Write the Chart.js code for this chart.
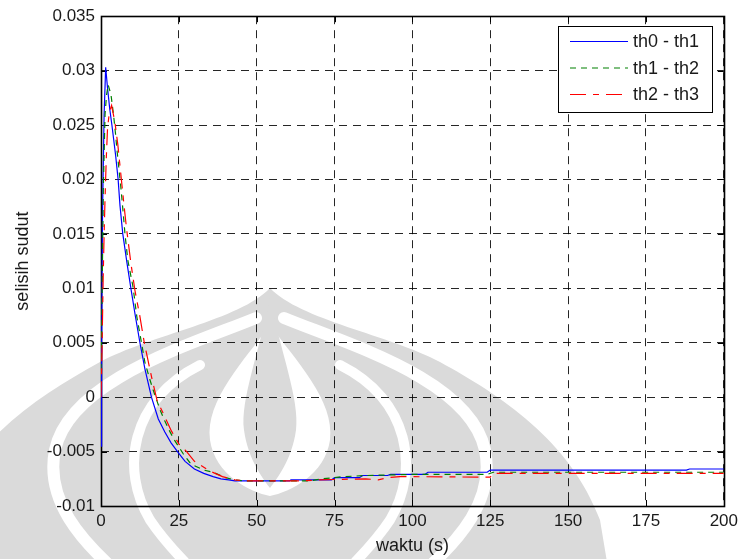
<!DOCTYPE html>
<html>
<head>
<meta charset="utf-8">
<script src="https://cdn.jsdelivr.net/npm/chart.js@4.4.1/dist/chart.umd.min.js"></script>
<style>
  html, body { margin: 0; padding: 0; background: #fff; }
  canvas { display: block; }
</style>
</head>
<body>
<canvas id="c" width="743" height="559"></canvas>
<script>
// Axis ticks and labels
const xTicks  = [0, 25, 50, 75, 100, 125, 150, 175, 200];
const xLabels = ['0', '25', '50', '75', '100', '125', '150', '175', '200'];
const yTicks  = [-0.01, -0.005, 0, 0.005, 0.01, 0.015, 0.02, 0.025, 0.03, 0.035];
const yLabels = ['-0.01', '-0.005', '0', '0.005', '0.01', '0.015', '0.02', '0.025', '0.03', '0.035'];

// th0 - th1
const tA = [0, 0.2, 0.5, 1, 1.5, 2.1, 2.8, 3.5, 4.7, 5.5, 6.1, 7, 8.3, 9.6, 11, 12.5, 14.1, 16.2, 18.4, 20.5,
            22.5, 24.8, 27, 30, 33, 36, 38.5, 41, 43, 50, 60.6, 61, 74, 75, 83, 84, 92, 93, 104, 105,
            124, 125, 188, 189, 200];
const th0_th1 = [-0.0045, 0.005, 0.017, 0.026, 0.0303, 0.0284, 0.0265, 0.025, 0.0222, 0.020, 0.0176, 0.015,
                 0.0124, 0.010, 0.0075, 0.005, 0.0026, 0.0, -0.002, -0.0032, -0.0042, -0.0051, -0.0059,
                 -0.0066, -0.0070, -0.0073, -0.0075, -0.0076, -0.0077, -0.0077, -0.0077, -0.0076, -0.0076,
                 -0.0074, -0.0074, -0.0072, -0.0072, -0.0071, -0.0071, -0.0069, -0.0069, -0.0067, -0.0067,
                 -0.0066, -0.0066];

// th1 - th2
const tB = [0, 0.3, 0.6, 0.75, 1.05, 1.3, 1.8, 2.3, 3.2, 4, 4.7, 5.1, 6.4, 7.1, 7.7, 8.6, 10.3, 11.5, 13, 14.1,
            15.5, 16.7, 19, 20.5, 22, 23.7, 26.4, 28.5, 30, 33, 36, 40, 43, 46, 67, 71, 78, 85, 100, 124,
            126, 200];
const th1_th2 = [0.0025, 0.008, 0.0156, 0.0192, 0.0229, 0.026, 0.0278, 0.0287, 0.0278, 0.026, 0.0241, 0.0228,
                 0.0192, 0.017, 0.015, 0.0126, 0.0101, 0.0074, 0.005, 0.0032, 0.0018, 0.0007, -0.0012,
                 -0.0022, -0.0031, -0.004, -0.0052, -0.006, -0.0063, -0.0067, -0.0069, -0.0074, -0.0076,
                 -0.0077, -0.0077, -0.0075, -0.0073, -0.0072, -0.0071, -0.0071, -0.0069, -0.0069];

// th2 - th3
const tC = [0, 0.3, 0.7, 1, 1.3, 1.7, 2.1, 2.7, 3.4, 4.5, 5.4, 6.4, 7.4, 8.2, 9.6, 10.9, 12.5, 13.9, 16.2, 18,
            20, 22.6, 25, 27.5, 30, 35, 39, 43, 47, 64, 70, 85, 89, 92, 96, 125, 126, 200];
const th2_th3 = [0, 0.004, 0.011, 0.015, 0.0183, 0.022, 0.0247, 0.0262, 0.0268, 0.0252, 0.0232, 0.0204,
                 0.0176, 0.0155, 0.0123, 0.0098, 0.0074, 0.005, 0.0019, -0.0003, -0.0015, -0.0031, -0.0043,
                 -0.005, -0.0059, -0.0068, -0.0073, -0.0076, -0.0077, -0.0077, -0.0076, -0.0075, -0.0076,
                 -0.0074, -0.0073, -0.00735, -0.0070, -0.0070];

const seriesNames = ['th0 - th1', 'th1 - th2', 'th2 - th3'];

const pts = (ts, vs) => ts.map((t, i) => ({ x: t, y: vs[i] }));

const FONT = 'Liberation Sans, Arial, Helvetica, sans-serif';
const INK = '#1a1a1a';

// Light grey emblem printed behind the whole figure
const emblem = {
  id: 'emblem',
  beforeDraw(chart) {
    const ctx = chart.ctx;
    ctx.save();
    ctx.fillStyle = '#fff';
    ctx.fillRect(0, 0, chart.width, chart.height);
    const cx = 270, g = '#dadada';
    ctx.fillStyle = g;
    ctx.beginPath();
    ctx.moveTo(cx, 288);
    ctx.bezierCurveTo(cx - 30, 320, cx - 120, 335, cx - 170, 362);
    ctx.bezierCurveTo(cx - 230, 395, cx - 300, 440, cx - 330, 520);
    ctx.lineTo(cx - 340, 580);
    ctx.lineTo(cx + 340, 580);
    ctx.lineTo(cx + 330, 520);
    ctx.bezierCurveTo(cx + 300, 440, cx + 230, 395, cx + 170, 362);
    ctx.bezierCurveTo(cx + 120, 335, cx + 30, 320, cx, 288);
    ctx.closePath();
    ctx.fill();

    ctx.strokeStyle = '#fff';
    ctx.lineCap = 'round';
    // outer ring band
    ctx.lineWidth = 12;
    for (const s of [-1, 1]) {
      ctx.beginPath();
      ctx.moveTo(cx + s * 14, 318);
      ctx.bezierCurveTo(cx + s * 80, 345, cx + s * 200, 380, cx + s * 215, 450);
      ctx.bezierCurveTo(cx + s * 225, 500, cx + s * 190, 540, cx + s * 150, 575);
      ctx.stroke();
    }
    // side lobe lines
    ctx.lineWidth = 10;
    for (const s of [-1, 1]) {
      ctx.beginPath();
      ctx.moveTo(cx + s * 70, 365);
      ctx.bezierCurveTo(cx + s * 140, 400, cx + s * 150, 470, cx + s * 120, 520);
      ctx.bezierCurveTo(cx + s * 100, 550, cx + s * 80, 565, cx + s * 70, 580);
      ctx.stroke();
    }
    // central teardrop gap
    ctx.fillStyle = '#fff';
    ctx.beginPath();
    ctx.moveTo(cx, 325);
    ctx.bezierCurveTo(cx - 25, 360, cx - 65, 400, cx - 60, 440);
    ctx.bezierCurveTo(cx - 55, 475, cx - 20, 492, cx, 496);
    ctx.bezierCurveTo(cx + 20, 492, cx + 55, 475, cx + 60, 440);
    ctx.bezierCurveTo(cx + 65, 400, cx + 25, 360, cx, 325);
    ctx.fill();
    // central flame
    ctx.fillStyle = g;
    ctx.beginPath();
    ctx.moveTo(cx, 298);
    ctx.bezierCurveTo(cx - 10, 350, cx - 30, 400, cx - 26, 430);
    ctx.bezierCurveTo(cx - 22, 460, cx - 6, 480, cx, 488);
    ctx.bezierCurveTo(cx + 6, 480, cx + 22, 460, cx + 26, 430);
    ctx.bezierCurveTo(cx + 30, 400, cx + 10, 350, cx, 298);
    ctx.fill();
    ctx.restore();
  }
};

// Axes box with inward tick marks
const axesBox = {
  id: 'axesBox',
  beforeDatasetsDraw(chart) {
    const { ctx, chartArea: a, scales: { x, y } } = chart;
    ctx.save();
    ctx.strokeStyle = '#000';
    ctx.lineWidth = 1;
    ctx.beginPath();
    for (const v of xTicks) {
      const px = Math.round(x.getPixelForValue(v)) + 0.5;
      ctx.moveTo(px, a.bottom); ctx.lineTo(px, a.bottom - 6);
      ctx.moveTo(px, a.top); ctx.lineTo(px, a.top + 6);
    }
    for (const v of yTicks) {
      const py = Math.round(y.getPixelForValue(v)) + 0.5;
      ctx.moveTo(a.left, py); ctx.lineTo(a.left + 6, py);
      ctx.moveTo(a.right, py); ctx.lineTo(a.right - 6, py);
    }
    ctx.stroke();
    ctx.lineWidth = 1.6;
    ctx.strokeRect(Math.round(a.left) + 0.5, Math.round(a.top) + 0.5,
                   Math.round(a.right - a.left), Math.round(a.bottom - a.top));
    ctx.restore();
  }
};

// Boxed legend in the upper right corner
const boxLegend = {
  id: 'boxLegend',
  afterDraw(chart) {
    const ctx = chart.ctx;
    const bx = 558, by = 26, bw = 154, bh = 86;
    ctx.save();
    ctx.fillStyle = '#fff';
    ctx.fillRect(bx, by, bw, bh);
    ctx.strokeStyle = '#000';
    ctx.lineWidth = 1;
    ctx.strokeRect(bx + 0.5, by + 0.5, bw, bh);
    chart.data.datasets.forEach((ds, i) => {
      const yy = 41.5 + i * 26.5;
      ctx.strokeStyle = ds.borderColor;
      ctx.lineWidth = ds.borderWidth;
      ctx.setLineDash(ds.borderDash || []);
      ctx.beginPath();
      ctx.moveTo(570, yy);
      ctx.lineTo(628, yy);
      ctx.stroke();
      ctx.setLineDash([]);
      ctx.fillStyle = INK;
      ctx.font = '18px ' + FONT;
      ctx.textBaseline = 'middle';
      ctx.textAlign = 'left';
      ctx.fillText(ds.label, 633, yy + 1);
    });
    ctx.restore();
  }
};

new Chart(document.getElementById('c'), {
  type: 'line',
  data: {
    datasets: [
      { label: seriesNames[0], data: pts(tA, th0_th1), borderColor: '#0000ff', borderWidth: 1.2,
        borderDash: [], order: 2 },
      { label: seriesNames[1], data: pts(tB, th1_th2), borderColor: '#008000', borderWidth: 1.2,
        borderDash: [6, 5], order: 1 },
      { label: seriesNames[2], data: pts(tC, th2_th3), borderColor: '#ff0000', borderWidth: 1.2,
        borderDash: [16, 7, 6, 7], order: 0 }
    ]
  },
  options: {
    responsive: false,
    animation: false,
    devicePixelRatio: 1,
    events: [],
    layout: { padding: { top: 16, right: 18, left: 0, bottom: 0 } },
    elements: { point: { radius: 0 }, line: { tension: 0, fill: false } },
    plugins: { legend: { display: false }, tooltip: { enabled: false } },
    scales: {
      x: {
        type: 'linear', min: 0, max: 200,
        afterBuildTicks(s) { s.ticks = xTicks.map(v => ({ value: v })); },
        afterFit(s) { s.height = 53; },
        ticks: { padding: 5, color: INK, font: { family: FONT, size: 17 },
                 callback: (v, i) => xLabels[i] },
        grid: { color: 'rgba(0,0,0,0.85)', lineWidth: 1, drawTicks: false },
        border: { display: false, dash: [8, 6] },
        title: { display: true, text: 'waktu (s)', color: INK, font: { family: FONT, size: 18 },
                 padding: { top: 0, bottom: 2 } }
      },
      y: {
        type: 'linear', min: -0.01, max: 0.035,
        afterBuildTicks(s) { s.ticks = yTicks.map(v => ({ value: v })); },
        afterFit(s) { s.width = 101; },
        ticks: { padding: 6, color: INK, font: { family: FONT, size: 17 },
                 callback: (v, i) => yLabels[i] },
        grid: { color: 'rgba(0,0,0,0.85)', lineWidth: 1, drawTicks: false },
        border: { display: false, dash: [8, 6] },
        title: { display: true, text: 'selisih sudut', color: INK, font: { family: FONT, size: 18 },
                 padding: { top: 12, bottom: 0 } }
      }
    }
  },
  plugins: [emblem, axesBox, boxLegend]
});
</script>
</body>
</html>
